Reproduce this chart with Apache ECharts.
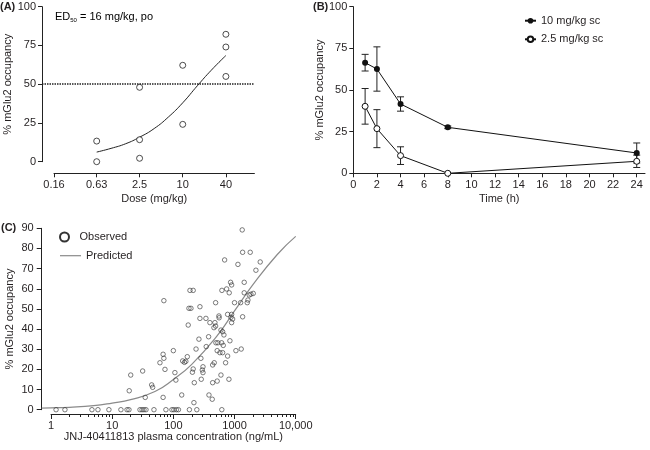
<!DOCTYPE html>
<html><head><meta charset="utf-8">
<script src="https://cdn.jsdelivr.net/npm/echarts@6/dist/echarts.min.js"></script>
<style>html,body{margin:0;padding:0;background:#fff}#c{width:650px;height:450px}</style>
</head><body><div id="c"></div>
<script>
// ---------- Panel A ----------
const aTickValues = [0.16, 0.63, 2.5, 10, 40];
const aTickLabels = ['0.16', '0.63', '2.5', '10', '40'];
const aYTicks = [0, 25, 50, 75, 100];
const aDose = [0.63, 0.63, 2.5, 2.5, 2.5, 10, 10, 40, 40, 40];
const aOcc  = [13.3, 0, 48, 14.2, 2.2, 62.2, 24.1, 82.2, 74, 55];
const aFitDose = [0.63, 1, 1.6, 2.5, 4, 6.3, 10, 16, 25, 40];
const aFitOcc  = [6.2, 8.6, 11.6, 15.8, 21.4, 28.8, 38, 49, 59, 68.5];
const aThreshold = 50;

// ---------- Panel B ----------
const bXTicks = [0, 2, 4, 6, 8, 10, 12, 14, 16, 18, 20, 22, 24];
const bTime = [1, 2, 4, 8, 24];
const b10Mean = [66.4, 62.6, 41.6, 27.6, 12.2];
const b10Err  = [5.0, 13.3, 4.3, 0.8, 6.0];
const b25Mean = [40.2, 26.8, 10.6, 0, 7.2];
const b25Err  = [10.7, 11.4, 5.3, 0, 3.7];

// ---------- Panel C ----------
const cTickValues = [1, 10, 100, 1000, 10000];
const cTickLabels = ['1', '10', '100', '1000', '10,000'];
const cMinorTicks = [2,3,4,5,6,7,8,9,20,30,40,50,60,70,80,90,200,300,400,500,600,700,800,900,2000,3000,4000,5000,6000,7000,8000,9000];
const cObsConc = [
  1.21,1.69,4.67,5.86,8.85,13.9,17.5,18.8,28.5,30.8,33.1,35.7,48.2,75.6,94.8,102,112,121,183,242,620,
  19.0,20.1,31.5,34.7,44.2,45.9,60.4,68,70,70,73,68,100,106,110,137,142,152,160,169,180,194,187,211,175,220,217,211,205,235,262,
  1336,1356,1805,689,2630,1137,2237,1440,863,897,622,743,819,1440,1853,2022,1739,1656,1614,1258,
  1000,491,272,1356,771,897,873,931,897,556,560,341,272,478,396,491,461,639,600,671,
  377,841,615,497,535,654,639,577,771,345,282,521,1054,1287,466,439,715,305,297,305,
  600,286,810,439,521,382,432];
const cObsOcc = [
  0,0,0,0,0,0,0,0,0,0,0,0,0,0,0,0,0,0,0,0,0,
  9.4,17.2,19.2,6.1,12.3,11.1,23.3,27.5,25.5,54.1,20.0,6.1,29.3,18.4,14.7,7.3,24.2,23.5,24.0,26.3,50.3,50.3,59.2,59.2,42.0,13.4,3.5,20.2,18.6,30.1,35.0,
  89.2,78.1,78.1,74.3,73.3,72.1,69.2,63.2,63.2,61.9,59.2,59.9,58.0,58.0,57.3,57.7,56.9,54.4,53.1,53.1,
  53.1,53.1,51.1,46.1,47.3,47.3,45.8,45.0,43.2,46.5,45.6,45.3,45.3,43.2,43.2,41.5,40.7,38.7,39.5,37.1,
  36.2,34.2,33.2,33.2,33.2,31.9,28.3,28.3,26.6,31.3,25.5,29.3,29.3,30.1,23.3,22.2,23.3,21.3,19.7,18.4,
  17.2,15.1,15.1,13.4,14.2,7.3,5.2];
const cFitConc = [0.705, 1, 2, 5, 10, 20, 50, 100, 200, 500, 1000, 2000, 5000, 10000];
const cFitOcc  = [0.8, 0.9, 1.2, 2.0, 3.3, 5.0, 9.0, 15, 22.5, 36, 49, 62, 77, 86];

// ---------- helpers ----------
const TXT = '#231f20';
const FONT = 'Liberation Sans, Arial, sans-serif';
const zip = (a, b) => a.map((v, i) => [v, b[i]]);
function nearestLabel(values, labels) {
  return function (v) {
    let best = 0, bd = Infinity;
    values.forEach((t, i) => { const d = Math.abs(Math.log(v) - Math.log(t)); if (d < bd) { bd = d; best = i; } });
    return labels[best];
  };
}
function errData(x, m, e) { return x.map((t, i) => [t, m[i] - e[i], m[i] + e[i]]).filter((d, i) => e[i] > 0); }
function errRender(params, api) {
  const x = api.value(0), lo = api.value(1), hi = api.value(2);
  const p1 = api.coord([x, lo]), p2 = api.coord([x, hi]);
  const w = 3.5, st = { stroke: '#222', lineWidth: 1, fill: null };
  return { type: 'group', children: [
    { type: 'line', shape: { x1: p1[0], y1: p1[1], x2: p2[0], y2: p2[1] }, style: st },
    { type: 'line', shape: { x1: p1[0] - w, y1: p1[1], x2: p1[0] + w, y2: p1[1] }, style: st },
    { type: 'line', shape: { x1: p2[0] - w, y1: p2[1], x2: p2[0] + w, y2: p2[1] }, style: st }
  ] };
}
const axLine = { show: true, lineStyle: { color: '#222', width: 1 } };
const axLabel = { color: TXT, fontSize: 11, fontFamily: FONT };
const nameStyle = { color: TXT, fontSize: 11, fontFamily: FONT };
const hiddenAxis = (grid, type, min, max) => ({ gridIndex: grid, type: type, min: min, max: max, show: false });

const chart = echarts.init(document.getElementById('c'), null, { renderer: 'canvas' });
chart.setOption({
  animation: false,
  backgroundColor: '#fff',
  textStyle: { fontFamily: FONT },
  grid: [
    { left: 42, top: 6.7, width: 212.4, height: 155 },        // A data
    { left: 54, top: 6.7, width: 200.4, height: 166.6 },      // A x-axis display
    { left: 353.3, top: 6.7, width: 291.7, height: 166.6 },   // B
    { left: 41.7, top: 228.3, width: 254, height: 181.4 },    // C data
    { left: 51, top: 228.3, width: 244.7, height: 185.7 },    // C x-axis major
    { left: 51, top: 228.3, width: 244.7, height: 185.7 }     // C x-axis minor
  ],
  xAxis: [
    hiddenAxis(0, 'log', 0.1087, 100),
    { gridIndex: 1, type: 'log', min: 0.16, max: 100, axisLine: axLine,
      axisTick: { show: true, length: 4, lineStyle: { color: '#222' }, customValues: aTickValues },
      axisLabel: Object.assign({ customValues: aTickValues, margin: 6, formatter: nearestLabel(aTickValues, aTickLabels) }, axLabel),
      splitLine: { show: false }, minorTick: { show: false },
      name: 'Dose (mg/kg)', nameLocation: 'middle', nameGap: 20, nameTextStyle: nameStyle },
    { gridIndex: 2, type: 'value', min: 0, max: 24.7, axisLine: axLine,
      axisTick: { show: true, length: 4, lineStyle: { color: '#222' }, customValues: bXTicks },
      axisLabel: Object.assign({ customValues: bXTicks, margin: 6 }, axLabel),
      splitLine: { show: false },
      name: 'Time (h)', nameLocation: 'middle', nameGap: 20, nameTextStyle: nameStyle },
    hiddenAxis(3, 'log', 0.705, 10000),
    { gridIndex: 4, type: 'log', min: 1, max: 10000, axisLine: axLine,
      axisTick: { show: true, length: 5, lineStyle: { color: '#222' }, customValues: cTickValues },
      axisLabel: Object.assign({ customValues: cTickValues, margin: 6, formatter: nearestLabel(cTickValues, cTickLabels) }, axLabel),
      splitLine: { show: false }, minorTick: { show: false },
      name: 'JNJ-40411813 plasma concentration (ng/mL)', nameLocation: 'middle', nameGap: 17, nameTextStyle: nameStyle },
    { gridIndex: 5, type: 'log', min: 1, max: 10000, axisLine: { show: false },
      axisTick: { show: true, length: 3, lineStyle: { color: '#222' }, customValues: cMinorTicks },
      axisLabel: { show: false }, splitLine: { show: false } }
  ],
  yAxis: [
    { gridIndex: 0, type: 'value', min: 0, max: 100, interval: 25, axisLine: axLine,
      axisTick: { show: true, length: 4, lineStyle: { color: '#222' } },
      axisLabel: Object.assign({ margin: 6 }, axLabel), splitLine: { show: false },
      name: '% mGlu2 occupancy', nameLocation: 'middle', nameGap: 27, nameTextStyle: nameStyle },
    hiddenAxis(1, 'value', 0, 100),
    { gridIndex: 2, type: 'value', min: 0, max: 100, interval: 25, axisLine: axLine,
      axisTick: { show: true, length: 4, lineStyle: { color: '#222' } },
      axisLabel: Object.assign({ margin: 6 }, axLabel), splitLine: { show: false },
      name: '% mGlu2 occupancy', nameLocation: 'middle', nameGap: 27, nameTextStyle: nameStyle },
    { gridIndex: 3, type: 'value', min: 0, max: 90, interval: 10, axisLine: axLine,
      axisTick: { show: true, length: 5, lineStyle: { color: '#222' } },
      axisLabel: Object.assign({ margin: 8 }, axLabel), splitLine: { show: false },
      name: '% mGlu2 occupancy', nameLocation: 'middle', nameGap: 26, nameTextStyle: nameStyle },
    hiddenAxis(4, 'value', 0, 100),
    hiddenAxis(5, 'value', 0, 100)
  ],
  legend: [
    { data: ['10 mg/kg sc', '2.5 mg/kg sc'], orient: 'vertical', left: 519, top: 10.2,
      itemWidth: 11, itemHeight: 7, itemGap: 7.6, textStyle: { color: TXT, fontSize: 11, fontFamily: FONT } },
    { data: [{ name: 'Observed', icon: 'circle', itemStyle: { color: '#fff', borderColor: '#000', borderWidth: 2 } }],
      left: 54, top: 226.5, itemWidth: 20, itemHeight: 9, textStyle: { color: TXT, fontSize: 11, fontFamily: FONT } },
    { data: [{ name: 'Predicted', icon: 'rect', itemStyle: { color: '#8a8a8a', borderWidth: 0 } }],
      left: 55, top: 245.2, itemWidth: 21, itemHeight: 1.2,
      textStyle: { color: TXT, fontSize: 11, fontFamily: FONT } }
  ],
  graphic: [
    { type: 'text', left: 0, top: 1.5, style: { text: '(A)', font: 'bold 11px ' + FONT, fill: TXT } },
    { type: 'text', left: 313, top: 1.5, style: { text: '(B)', font: 'bold 11px ' + FONT, fill: TXT } },
    { type: 'text', left: 1, top: 222.5, style: { text: '(C)', font: 'bold 11px ' + FONT, fill: TXT } },
    { type: 'text', left: 55, top: 11, style: {
      text: '{a|ED}{s|50}{a| = 16 mg/kg, po}',
      rich: { a: { fontSize: 11, fontFamily: FONT, color: TXT, lineHeight: 14, verticalAlign: 'middle' },
              s: { fontSize: 6, fontFamily: FONT, color: TXT, lineHeight: 14, verticalAlign: 'bottom' } } } }
  ],
  series: [
    { name: 'A observed', type: 'scatter', xAxisIndex: 0, yAxisIndex: 0, data: zip(aDose, aOcc),
      symbol: 'circle', symbolSize: 6, itemStyle: { color: '#fff', borderColor: '#222', borderWidth: 1 }, z: 4,
      markLine: { silent: true, symbol: 'none', label: { show: false },
        lineStyle: { type: [1.5, 1], color: '#222', width: 1.5 }, data: [{ yAxis: aThreshold }] } },
    { name: 'A fit', type: 'line', xAxisIndex: 0, yAxisIndex: 0, data: zip(aFitDose, aFitOcc),
      smooth: true, symbol: 'none', lineStyle: { color: '#222', width: 1 } },
    { name: 'err10', type: 'custom', xAxisIndex: 2, yAxisIndex: 2, data: errData(bTime, b10Mean, b10Err), renderItem: errRender, z: 2 },
    { name: 'err25', type: 'custom', xAxisIndex: 2, yAxisIndex: 2, data: errData(bTime, b25Mean, b25Err), renderItem: errRender, z: 2 },
    { name: '10 mg/kg sc', type: 'line', xAxisIndex: 2, yAxisIndex: 2, data: zip(bTime, b10Mean),
      symbol: 'circle', symbolSize: 6, itemStyle: { color: '#111' }, lineStyle: { color: '#111', width: 1 }, z: 3 },
    { name: '2.5 mg/kg sc', type: 'line', xAxisIndex: 2, yAxisIndex: 2, data: zip(bTime, b25Mean),
      symbol: 'circle', symbolSize: 6, itemStyle: { color: '#fff', borderColor: '#111', borderWidth: 1 },
      lineStyle: { color: '#111', width: 1 }, z: 3 },
    { name: 'Observed', type: 'scatter', xAxisIndex: 3, yAxisIndex: 3, data: zip(cObsConc, cObsOcc),
      symbol: 'circle', symbolSize: 4.5, itemStyle: { color: 'rgba(0,0,0,0)', borderColor: '#333', borderWidth: 0.8 }, z: 4 },
    { name: 'Predicted', type: 'line', xAxisIndex: 3, yAxisIndex: 3, data: zip(cFitConc, cFitOcc),
      smooth: true, symbol: 'none', lineStyle: { color: '#8a8a8a', width: 1.2 }, itemStyle: { color: '#8a8a8a' }, z: 3 }
  ]
});
</script></body></html>
